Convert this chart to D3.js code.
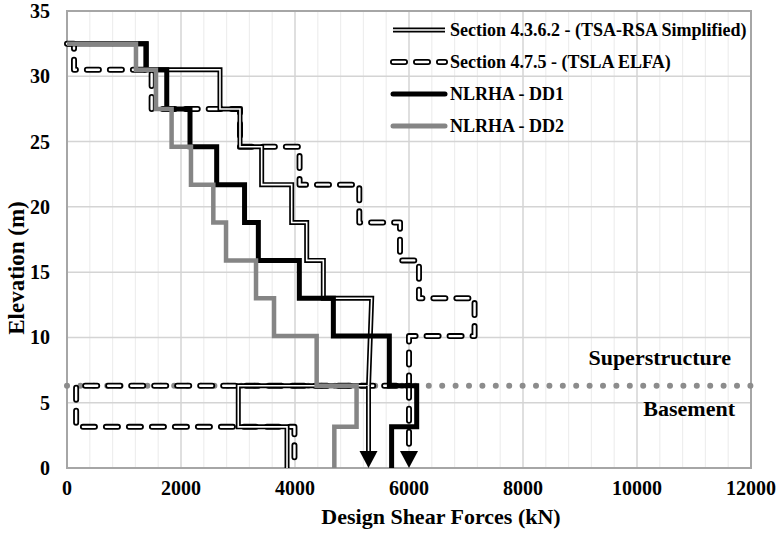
<!DOCTYPE html>
<html>
<head>
<meta charset="utf-8">
<script src="https://cdn.jsdelivr.net/npm/d3@7"></script>
<style>
  body { margin: 0; background: #fff; }
</style>
</head>
<body>
<div class="chart-container"></div>
<script>
const width = 776, height = 535;
const margin = {top: 11, right: 25, bottom: 67, left: 67};
const serif = "'Liberation Serif', 'Times New Roman', 'DejaVu Serif', serif";

// step vertices (force kN, elevation m)
var rsaForce = [0, 1390, 1390, 2684, 2684, 3035, 3035, 3415, 3415, 3942, 3942, 4205, 4205, 4497, 4497, 5345, 5290, 3005, 3005, 3860, 3860];
var rsaElev  = [32.5, 32.5, 30.5, 30.5, 27.5, 27.5, 24.6, 24.6, 21.7, 21.7, 18.8, 18.8, 15.9, 15.9, 13.0, 13.0, 6.3, 6.3, 3.15, 3.15, 0];

var elfaForce = [0, 123, 123, 1485, 1485, 3035, 3035, 4080, 4080, 5128, 5128, 5842, 5842, 6175, 6175, 7150, 7150, 6000, 6000, 160, 160, 3990, 3990];
var elfaElev  = [32.5, 32.5, 30.5, 30.5, 27.5, 27.5, 24.6, 24.6, 21.7, 21.7, 18.8, 18.8, 15.9, 15.9, 13.0, 13.0, 10.1, 10.1, 6.3, 6.3, 3.15, 3.15, 0];

var dd1Force = [0, 1386, 1386, 1750, 1750, 2158, 2158, 2626, 2626, 3115, 3115, 3357, 3357, 4076, 4076, 4673, 4673, 5655, 5655, 6135, 6135, 5695, 5695];
var dd1Elev  = [32.5, 32.5, 30.5, 30.5, 27.5, 27.5, 24.6, 24.6, 21.7, 21.7, 18.8, 18.8, 15.9, 15.9, 13.0, 13.0, 10.1, 10.1, 6.3, 6.3, 3.15, 3.15, 0];

var dd2Force = [0, 1210, 1210, 1560, 1560, 1835, 1835, 2175, 2175, 2567, 2567, 2790, 2790, 3316, 3316, 3632, 3632, 4380, 4380, 5080, 5080, 4690, 4690];
var dd2Elev  = [32.5, 32.5, 30.5, 30.5, 27.5, 27.5, 24.6, 24.6, 21.7, 21.7, 18.8, 18.8, 15.9, 15.9, 13.0, 13.0, 10.1, 10.1, 6.3, 6.3, 3.15, 3.15, 0];

// arrows carrying superstructure base shear down through the basement
var rsaArrowForce = 5290, elfaArrowForce = 6000;
var groundElev = 6.3;

var xTicks = [0, 2000, 4000, 6000, 8000, 10000, 12000];
var yTicks = [0, 5, 10, 15, 20, 25, 30, 35];
var legendLabels = ["Section 4.3.6.2 - (TSA-RSA Simplified)", "Section 4.7.5 - (TSLA ELFA)", "NLRHA - DD1", "NLRHA - DD2"];

var svg = d3.select(".chart-container")
    .append("svg")
    .attr("width", width)
    .attr("height", height)
    .attr("font-family", serif)
    .attr("font-weight", "bold");

var x = d3.scaleLinear().domain([0, 12000]).range([margin.left, width - margin.right]);
var y = d3.scaleLinear().domain([0, 35]).range([height - margin.bottom, margin.top]);

// gridlines
var grid = svg.append("g");
grid.selectAll(".vminor")
    .data(d3.range(0, 12001, 400))
    .enter().append("line")
    .attr("x1", d => x(d)).attr("x2", d => x(d))
    .attr("y1", y(0)).attr("y2", y(35))
    .attr("stroke", d => d % 2000 == 0 ? "#d4d4d4" : "#eeeeee")
    .attr("stroke-width", d => d % 2000 == 0 ? 1.5 : 1.2);
grid.selectAll(".hmajor")
    .data(yTicks)
    .enter().append("line")
    .attr("x1", x(0)).attr("x2", x(12000))
    .attr("y1", d => y(d)).attr("y2", d => y(d))
    .attr("stroke", "#d4d4d4")
    .attr("stroke-width", 1.5);

// plot frame
svg.append("rect")
    .attr("x", x(0)).attr("y", y(35))
    .attr("width", x(12000) - x(0)).attr("height", y(0) - y(35))
    .attr("fill", "none")
    .attr("stroke", "#a6a6a6")
    .attr("stroke-width", 2);

// tick labels
svg.selectAll(".xt")
    .data(xTicks)
    .enter().append("text")
    .attr("x", d => x(d)).attr("y", y(0) + 27)
    .attr("text-anchor", "middle")
    .attr("font-size", 20)
    .text(d => d);
svg.selectAll(".yt")
    .data(yTicks)
    .enter().append("text")
    .attr("x", x(0) - 17).attr("y", d => y(d) + 7)
    .attr("text-anchor", "end")
    .attr("font-size", 20)
    .text(d => d);

// axis titles
svg.append("text")
    .attr("x", 441).attr("y", height - 11)
    .attr("text-anchor", "middle")
    .attr("font-size", 22)
    .text("Design Shear Forces (kN)");
svg.append("text")
    .attr("transform", "translate(24,268) rotate(-90)")
    .attr("text-anchor", "middle")
    .attr("font-size", 23)
    .text("Elevation (m)");

// ground level boundary
svg.append("line")
    .attr("x1", x(0)).attr("x2", x(12000))
    .attr("y1", y(groundElev)).attr("y2", y(groundElev))
    .attr("stroke", "#8c8c8c")
    .attr("stroke-width", 6)
    .attr("stroke-linecap", "round")
    .attr("stroke-dasharray", "0,13.4");
svg.append("text")
    .attr("x", 731).attr("y", y(groundElev) - 21)
    .attr("text-anchor", "end")
    .attr("font-size", 22)
    .text("Superstructure");
svg.append("text")
    .attr("x", 735).attr("y", y(groundElev) + 30)
    .attr("text-anchor", "end")
    .attr("font-size", 22)
    .text("Basement");

var line = d3.line().x(d => x(d[0])).y(d => y(d[1]));
var zip = (f, e) => f.map((v, i) => [v, e[i]]);

function doubleLine(g, pts) {
    g.append("path").attr("d", line(pts)).attr("fill", "none")
        .attr("stroke", "#000").attr("stroke-width", 5).attr("stroke-linejoin", "miter");
    g.append("path").attr("d", line(pts)).attr("fill", "none")
        .attr("stroke", "#fff").attr("stroke-width", 1.6).attr("stroke-linejoin", "miter");
}
function dashedLine(g, pts) {
    g.append("path").attr("d", line(pts)).attr("fill", "none")
        .attr("stroke", "#000").attr("stroke-width", 6)
        .attr("stroke-linecap", "round").attr("stroke-linejoin", "round")
        .attr("stroke-dasharray", "12,11");
    g.append("path").attr("d", line(pts)).attr("fill", "none")
        .attr("stroke", "#fff").attr("stroke-width", 2.4)
        .attr("stroke-linecap", "round").attr("stroke-linejoin", "round")
        .attr("stroke-dasharray", "12,11");
}
function arrowHead(g, f) {
    var tx = x(f), ty = y(0);
    g.append("path")
        .attr("d", "M" + tx + "," + ty + "L" + (tx - 9) + "," + (ty - 17) + "L" + (tx + 9) + "," + (ty - 17) + "Z")
        .attr("fill", "#000");
}

var series = svg.append("g");

// ELFA dashed
var gElfa = series.append("g");
dashedLine(gElfa, zip(elfaForce, elfaElev));
dashedLine(gElfa, [[elfaArrowForce, groundElev], [elfaArrowForce, y.invert(y(0) - 17)]]);
arrowHead(gElfa, elfaArrowForce);

// RSA double line
var gRsa = series.append("g");
doubleLine(gRsa, zip(rsaForce, rsaElev));
doubleLine(gRsa, [[rsaArrowForce, groundElev], [rsaArrowForce, y.invert(y(0) - 16)]]);
arrowHead(gRsa, rsaArrowForce);

// NLRHA
series.append("path").attr("d", line(zip(dd1Force, dd1Elev))).attr("fill", "none")
    .attr("stroke", "#000").attr("stroke-width", 5);
series.append("path").attr("d", line(zip(dd2Force, dd2Elev))).attr("fill", "none")
    .attr("stroke", "#858585").attr("stroke-width", 4.5);

// legend
var legend = svg.append("g");
var lx0 = 393, lx1 = 445, ly0 = 30, ldy = 32;
legendLabels.forEach((lab, i) => {
    var ly = ly0 + i * ldy;
    var pts = [[x.invert(lx0), y.invert(ly)], [x.invert(lx1), y.invert(ly)]];
    var g = legend.append("g");
    if (i == 0) doubleLine(g, pts);
    else if (i == 1) dashedLine(g, pts);
    else g.append("path").attr("d", line(pts))
        .attr("stroke", i == 2 ? "#000" : "#858585")
        .attr("stroke-width", 5).attr("stroke-linecap", "round");
    legend.append("text")
        .attr("x", lx1 + 5).attr("y", ly + 6)
        .attr("font-size", 18)
        .text(lab);
});
</script>
</body>
</html>
